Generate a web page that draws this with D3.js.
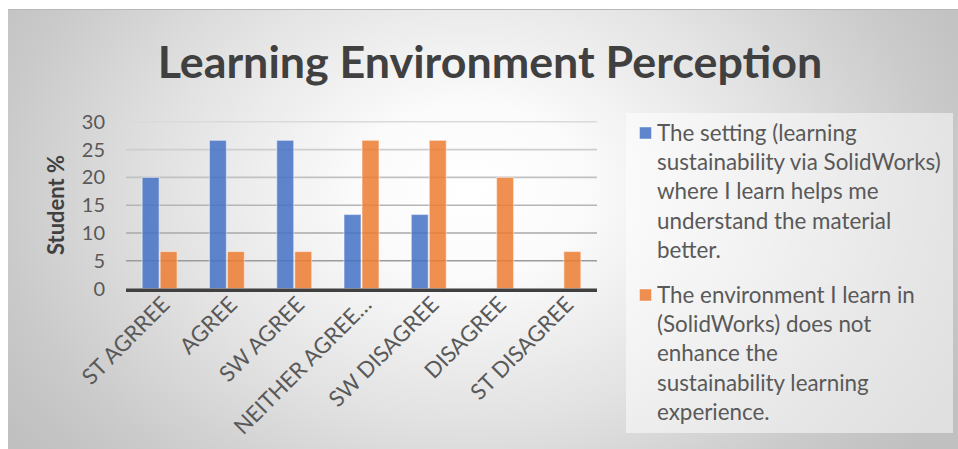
<!DOCTYPE html>
<html><head><meta charset="utf-8">
<script src="https://cdn.jsdelivr.net/npm/d3@7"></script>
<style>html,body{margin:0;padding:0;background:#fff;overflow:hidden}</style>
</head><body><svg id="chart" width="958" height="449"></svg>
<script>
// Survey responses (percentage of students) per agreement level
const categories = ["ST AGRREE", "AGREE", "SW AGREE", "NEITHER AGREE…", "SW DISAGREE", "DISAGREE", "ST DISAGREE"];
const settingHelps = [20, 26.67, 26.67, 13.33, 13.33, 0, 0];
const envNotEnhance = [6.67, 6.67, 6.67, 26.67, 26.67, 20, 6.67];
const yTicks = [0, 5, 10, 15, 20, 25, 30];
const seriesLegendLines = [
  ["The setting (learning", "sustainability via SolidWorks)", "where I learn helps me", "understand the material", "better."],
  ["The environment I learn in", "(SolidWorks) does not", "enhance the", "sustainability learning", "experience."]
];
const seriesColors = ["#4472C4", "#ED7D31"];
const chartTitle = "Learning Environment Perception";
const yAxisTitle = "Student %";

const FONT = "Lato, 'Open Sans', sans-serif";
const svg = d3.select("#chart");
const W = 958, H = 449;

// Background: framed area with a soft radial grey gradient
const defs = svg.append("defs");
const rg = defs.append("radialGradient").attr("id", "bg")
  .attr("gradientUnits", "userSpaceOnUse")
  .attr("cx", 470).attr("cy", 190).attr("r", 560)
  .attr("gradientTransform", "translate(470,190) scale(1,0.75) translate(-470,-190)");
[[0, "#ffffff"], [0.2, "#fbfbfb"], [0.55, "#e2e2e2"], [0.85, "#c9c9c9"], [1, "#c0c0c0"]]
  .forEach(([o, c]) => rg.append("stop").attr("offset", o).attr("stop-color", c));

svg.append("rect").attr("x", 8).attr("y", 9).attr("width", W - 8).attr("height", H - 9)
  .attr("fill", "url(#bg)");
svg.append("line").attr("x1", 8).attr("x2", W).attr("y1", 9.5).attr("y2", 9.5)
  .attr("stroke", "#b8b8b8").attr("stroke-width", 1);

// Title
const title = svg.append("text").attr("x", 490).attr("y", 78)
  .attr("text-anchor", "middle").attr("font-family", FONT).attr("font-weight", 700)
  .attr("font-size", 40).attr("fill", "#404040").text(chartTitle);
{
  const w = title.node().getComputedTextLength();
  title.attr("font-size", 40 * 665 / w);
}

// Scales
const plot = { left: 126, right: 597, top: 121.8, bottom: 288.6 };
const x0 = d3.scaleBand().domain(categories).range([plot.left, plot.right])
  .paddingInner(0.465).paddingOuter(0.2325);
const x1 = d3.scaleBand().domain([0, 1]).range([0, x0.bandwidth()]);
const y = d3.scaleLinear().domain([0, 30]).range([plot.bottom, plot.top]);

// Gridlines (darker toward the baseline)
const gridColor = d3.interpolateRgb("#dadada", "#9c9c9c");
svg.append("g").selectAll("line").data(yTicks.filter(t => t > 0)).join("line")
  .attr("x1", plot.left).attr("x2", plot.right)
  .attr("y1", d => y(d)).attr("y2", d => y(d))
  .attr("stroke", d => gridColor(1 - (d - 5) / 25)).attr("stroke-width", 1.6);

// Y axis labels
const yAxis = d3.axisLeft(y).tickValues(yTicks).tickSize(0).tickPadding(0);
const yG = svg.append("g").attr("transform", `translate(105,0)`).call(yAxis);
yG.select(".domain").remove();
yG.selectAll("text").attr("font-family", FONT).attr("font-size", 20).attr("fill", "#595959");

// Y axis title
const yt = svg.append("text").attr("transform", "translate(64,205) rotate(-90)")
  .attr("text-anchor", "middle").attr("font-family", FONT).attr("font-weight", 700)
  .attr("font-size", 19).attr("fill", "#404040").text(yAxisTitle);
{
  const w = yt.node().getComputedTextLength();
  yt.attr("font-size", 19 * 100 / w);
}

// Bars
const series = [settingHelps, envNotEnhance];
series.forEach((vals, si) => {
  svg.append("g").selectAll("rect")
    .data(vals.map((v, i) => ({ cat: categories[i], v })).filter(d => d.v > 0))
    .join("rect")
    .attr("x", d => x0(d.cat) + x1(si) + 0.5)
    .attr("width", x1.bandwidth() - 1)
    .attr("y", d => y(d.v))
    .attr("height", d => y(0) - y(d.v))
    .attr("fill", seriesColors[si]).attr("fill-opacity", 0.85)
    .attr("stroke", "#ffffff").attr("stroke-opacity", 0.45).attr("stroke-width", 1.2);
});

// Baseline
svg.append("line").attr("x1", plot.left).attr("x2", plot.right)
  .attr("y1", y(0) + 1.6).attr("y2", y(0) + 1.6)
  .attr("stroke", "#404040").attr("stroke-width", 3.6);

// X axis labels, rotated
const xl = svg.append("g").selectAll("text").data(categories).join("text")
  .attr("transform", d => `translate(${x0(d) + x0.bandwidth() / 2 + 6},${y(0) + 12}) rotate(-45)`)
  .attr("text-anchor", "end").attr("dy", "0.35em")
  .attr("font-family", FONT).attr("font-size", 18).attr("fill", "#595959").text(d => d);
{
  const w = xl.filter((d, i) => i === 0).node().getComputedTextLength();
  xl.attr("font-size", 18 * 113 / w);
}

// Legend
svg.append("rect").attr("x", 626).attr("y", 113).attr("width", 327).attr("height", 320)
  .attr("fill", "#ffffff").attr("fill-opacity", 0.5);
const lineH = 29.3, entryStart = [133, 295];
const legendTexts = [];
seriesLegendLines.forEach((lines, si) => {
  const g = svg.append("g");
  g.append("rect").attr("x", 639.5).attr("y", entryStart[si] - 6).attr("width", 12).attr("height", 12)
    .attr("fill", seriesColors[si]).attr("fill-opacity", 0.85)
    .attr("stroke", "#ffffff").attr("stroke-opacity", 0.45).attr("stroke-width", 1);
  lines.forEach((ln, li) => {
    legendTexts.push(g.append("text").attr("x", 657).attr("y", entryStart[si] + li * lineH)
      .attr("dy", "0.35em").attr("font-family", FONT).attr("font-size", 20)
      .attr("fill", "#595959").text(ln));
  });
});
{
  const w = legendTexts[1].node().getComputedTextLength();
  legendTexts.forEach(t => t.attr("font-size", 20 * 284 / w));
}
</script></body></html>
